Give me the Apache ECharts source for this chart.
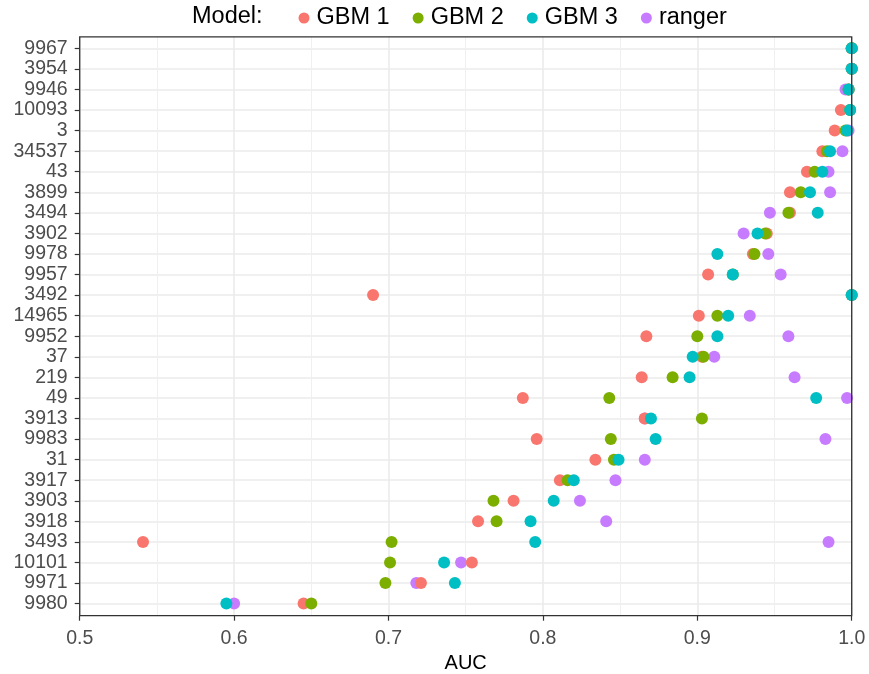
<!DOCTYPE html>
<html><head><meta charset="utf-8">
<script src="https://cdn.jsdelivr.net/npm/echarts@6/dist/echarts.min.js"></script>
<style>html,body{margin:0;padding:0;background:#fff}#c{width:869px;height:674px}</style>
</head><body><div id="c"></div>
<script>
const categories = ['9967','3954','9946','10093','3','34537','43','3899','3494','3902','9978','9957','3492','14965','9952','37','219','49','3913','9983','31','3917','3903','3918','3493','10101','9971','9980'];
const gbm1   = [1.000,1.000,0.998,0.993,0.989,0.981,0.971,0.960,0.960,0.945,0.936,0.907,0.690,0.901,0.867,0.903,0.864,0.787,0.866,0.796,0.834,0.811,0.781,0.758,0.541,0.754,0.721,0.645];
const gbm2   = [1.000,1.000,0.998,0.999,0.996,0.984,0.976,0.967,0.959,0.944,0.937,0.923,1.000,0.913,0.900,0.904,0.884,0.843,0.903,0.844,0.846,0.816,0.768,0.770,0.702,0.701,0.698,0.650];
const gbm3   = [1.000,1.000,0.998,0.999,0.997,0.986,0.981,0.973,0.978,0.939,0.913,0.923,1.000,0.920,0.913,0.897,0.895,0.977,0.870,0.873,0.849,0.820,0.807,0.792,0.795,0.736,0.743,0.595];
const ranger = [1.000,1.000,0.996,0.999,0.998,0.994,0.985,0.986,0.947,0.930,0.946,0.954,1.000,0.934,0.959,0.911,0.963,0.997,0.866,0.983,0.866,0.847,0.824,0.841,0.985,0.747,0.718,0.600];
const seriesNames = ['GBM 1','GBM 2','GBM 3','ranger'];
const colors = {'GBM 1':'#F8766D','GBM 2':'#7CAE00','GBM 3':'#00BFC4','ranger':'#C77CFF'};

const FONT = '"Liberation Sans", Arial, Helvetica, sans-serif';
const toPts = arr => arr.map((v,i)=>[v, categories[i]]);
const mk = (name, arr) => ({
  name, type:'scatter', xAxisIndex:0, yAxisIndex:0, data: toPts(arr),
  symbol:'circle', symbolSize:12, itemStyle:{color:colors[name], opacity:1},
  emphasis:{disabled:true}, animation:false
});

const chart = echarts.init(document.getElementById('c'), null, {renderer:'canvas'});
chart.setOption({
  animation:false,
  backgroundColor:'#ffffff',
  title:{text:'Model:', left:192, top:5, padding:0, textStyle:{fontFamily:FONT, fontSize:23.5, fontWeight:'normal', color:'#000'}},
  legend:{
    data: seriesNames, left:298.5, top:6, padding:0, icon:'circle', itemWidth:11, itemHeight:11, itemGap:23,
    textStyle:{fontFamily:FONT, fontSize:23.5, color:'#000', padding:[0,0,0,2]}
  },
  grid:[
    {left:79.7, right:17.3, top:48.3, bottom:70.4, outerBoundsMode:'none', containLabel:false},
    {left:79.7, right:17.3, top:36.8, bottom:58.3, outerBoundsMode:'none', containLabel:false,
     show:true, borderColor:'#333333', borderWidth:1.3, backgroundColor:'transparent', z:5}
  ],
  xAxis:[
    {gridIndex:0, type:'value', min:0.5, max:1.0, show:false},
    {gridIndex:1, type:'value', min:0.5, max:1.0, interval:0.1,
     name:'AUC', nameLocation:'middle', nameGap:31,
     nameTextStyle:{fontFamily:FONT, fontSize:20, color:'#000'},
     axisLine:{show:false},
     axisTick:{show:true, length:5, lineStyle:{color:'#333333', width:1.2}},
     axisLabel:{fontFamily:FONT, fontSize:19.5, color:'#4D4D4D', margin:13, formatter:v=>Number(v).toFixed(1)},
     splitLine:{show:true, lineStyle:{color:'#EBEBEB', width:1.6}},
     minorTick:{show:false, splitNumber:2},
     minorSplitLine:{show:true, lineStyle:{color:'#EEEEEE', width:0.9}}
    }
  ],
  yAxis:[
    {gridIndex:0, type:'category', data:categories, inverse:true, boundaryGap:false,
     axisLine:{show:false},
     axisTick:{show:true, length:5, lineStyle:{color:'#333333', width:1.2}},
     axisLabel:{fontFamily:FONT, fontSize:19.5, color:'#4D4D4D', margin:12, interval:0},
     splitLine:{show:true, interval:0, lineStyle:{color:'#EBEBEB', width:1.6}}
    },
    {gridIndex:1, type:'value', show:false}
  ],
  series:[ mk('ranger', ranger), mk('GBM 1', gbm1), mk('GBM 2', gbm2), mk('GBM 3', gbm3) ]
});
</script></body></html>
